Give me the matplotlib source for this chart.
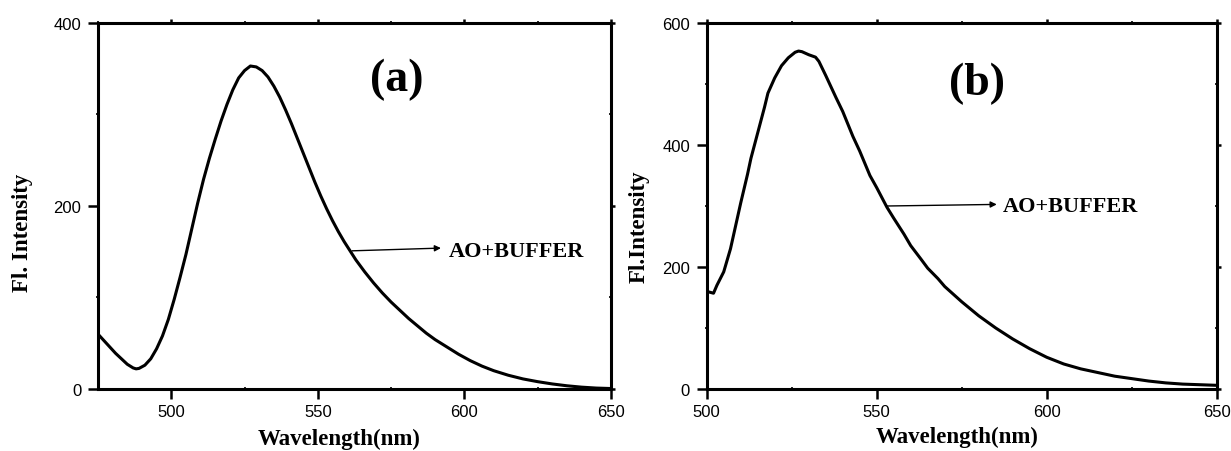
import matplotlib
matplotlib.use('Agg')
import matplotlib.pyplot as plt
from matplotlib.ticker import MultipleLocator

# panel (a) spectrum
wl_a = [475, 477, 479, 481, 483, 485, 487, 488, 489, 491, 493, 495, 497, 499,
        501, 503, 505, 507, 509, 511, 513, 515, 517, 519, 521, 523, 525, 527,
        529, 531, 533, 535, 537, 539, 541, 543, 545, 547, 549, 551, 553, 555,
        557, 559, 561, 563, 566, 569, 572, 575, 578, 581, 584, 587, 590, 594,
        598, 602, 606, 610, 615, 620, 625, 630, 635, 640, 645, 650]
fl_a = [60, 53, 46, 39, 33, 27, 23, 22, 22.5, 26, 33, 44, 58, 76,
        98, 122, 147, 175, 203, 229, 252, 273, 293, 311, 327, 340, 348, 353,
        352, 348, 341, 331, 319, 305, 290, 274, 258, 242, 226, 211, 197, 184,
        172, 161, 151, 141, 128, 116, 105, 95, 86, 77, 69, 61, 54, 46,
        38, 31, 25, 20, 15, 11, 8, 5.5, 3.5, 2, 1, 0.5]

# panel (b) spectrum
wl_b = [500, 502, 503, 505, 507, 508, 510, 512, 513, 515, 517, 518, 520, 522,
        524, 526, 527, 528, 530, 531, 532, 533, 535, 538, 540, 543, 545, 548,
        550, 553, 555, 558, 560, 563, 565, 568, 570, 575, 580, 585, 590, 595,
        600, 605, 610, 615, 620, 625, 630, 635, 640, 645, 650]
fl_b = [160, 157, 170, 192, 230, 255, 305, 352, 378, 420, 462, 485, 510, 530,
        543, 552, 554, 553, 548, 546, 544, 537, 514, 478, 455, 414, 390, 350,
        330, 298, 280, 254, 235, 213, 198, 181, 168, 143, 120, 100, 82, 66,
        52, 41, 33, 27, 21, 17, 13, 10, 8, 7, 6]

panels = [
    dict(x=wl_a, y=fl_a, xlim=(475, 650), ylim=(0, 400), tag='(a)',
         ylabel='Fl. Intensity', arrow=((561.7, 151), (592, 154)),
         txt=(594.6, 151), tagpos=(0.583, 0.846), ylab=(-0.127, 0.429),
         xlab=(0.471, -0.106)),
    dict(x=wl_b, y=fl_b, xlim=(500, 650), ylim=(0, 600), tag='(b)',
         ylabel='Fl.Intensity', arrow=((553.1, 300), (585.3, 302.6)),
         txt=(587, 300), tagpos=(0.53, 0.835), ylab=(-0.111, 0.447),
         xlab=(0.491, -0.1)),
]

serif = 'Liberation Serif'
sans = 'Liberation Sans'
plt.rcParams['font.family'] = sans

fig = plt.figure(figsize=(12.31, 4.52), dpi=100)
rects = [[0.0796, 0.1372, 0.4167, 0.8097], [0.5741, 0.1372, 0.4143, 0.8097]]

for rect, p in zip(rects, panels):
    ax = fig.add_axes(rect)
    ax.plot(p['x'], p['y'], color='black', lw=2.2)
    ax.set_xlim(*p['xlim'])
    ax.set_ylim(*p['ylim'])
    ax.xaxis.set_major_locator(MultipleLocator(50))
    ax.xaxis.set_minor_locator(MultipleLocator(25))
    ax.yaxis.set_major_locator(MultipleLocator(200))
    ax.yaxis.set_minor_locator(MultipleLocator(100))
    for s in ax.spines.values():
        s.set_linewidth(2.2)
    ax.tick_params(which='major', direction='out', length=7, width=1.8,
                   labelsize=12, pad=4)
    ax.tick_params(which='minor', direction='inout', length=3, width=1.2)
    ax.tick_params(which='both', top=True, right=True)
    ax.tick_params(which='major', axis='y', pad=5)

    ax.set_xlabel('Wavelength(nm)', fontfamily=serif, fontweight='bold',
                  fontsize=16.5)
    ax.xaxis.set_label_coords(*p['xlab'])
    ax.set_ylabel(p['ylabel'], fontfamily=serif, fontweight='bold',
                  fontsize=16.5)
    ax.yaxis.set_label_coords(*p['ylab'])

    ax.text(p['tagpos'][0], p['tagpos'][1], p['tag'], transform=ax.transAxes,
            ha='center', va='center', fontfamily=serif, fontweight='bold',
            fontsize=33)

    (x0, y0), (x1, y1) = p['arrow']
    ax.annotate('', xy=(x1, y1), xytext=(x0, y0),
                arrowprops=dict(arrowstyle='-|>', color='black', lw=1.0,
                                mutation_scale=9, shrinkA=0, shrinkB=0))
    ax.text(p['txt'][0], p['txt'][1], 'AO+BUFFER', ha='left', va='center',
            fontfamily=serif, fontweight='bold', fontsize=16)

# top/right ticks are short and point inward
for ax in fig.axes:
    for t in ax.xaxis.get_major_ticks() + ax.xaxis.get_minor_ticks():
        t.tick2line.set_markersize(3)
    for t in ax.yaxis.get_major_ticks() + ax.yaxis.get_minor_ticks():
        t.tick2line.set_markersize(3)

fig.savefig('out.png', dpi=100)
